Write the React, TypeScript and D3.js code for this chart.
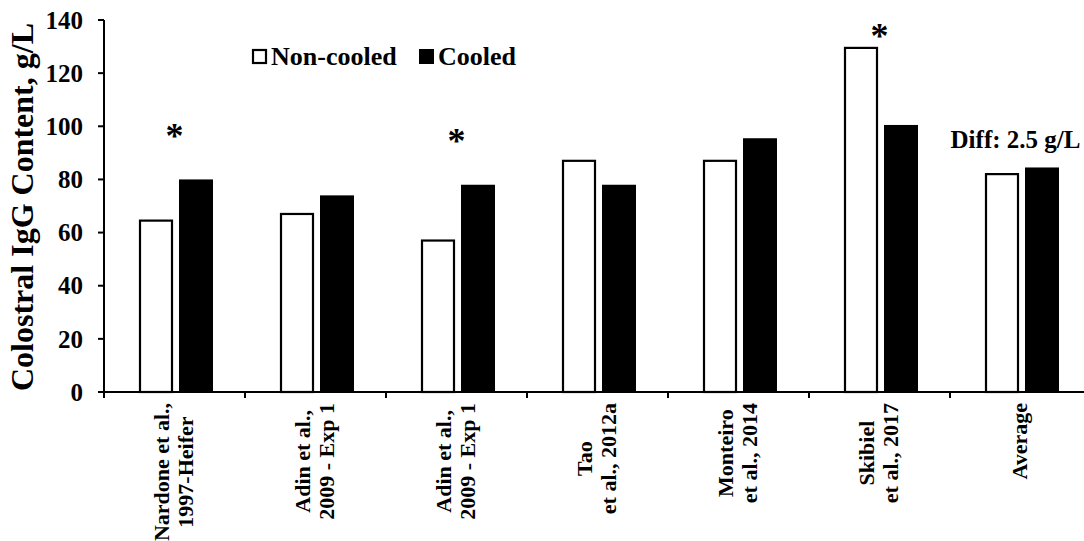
import React, { useEffect, useRef } from 'react';
import * as d3 from 'd3';

// categories (each entry = lines of the rotated label)
const categoryLabels: string[][] = [
    ['Nardone et al.,', '1997-Heifer'],
    ['Adin et al.,', '2009 - Exp 1'],
    ['Adin et al.,', '2009 - Exp 1'],
    ['Tao', 'et al., 2012a'],
    ['Monteiro', 'et al., 2014'],
    ['Skibiel', 'et al., 2017'],
    ['Average'],
];
const seriesNames = ['Non-cooled', 'Cooled'];
const nonCooled = [64.5, 67, 57, 87, 87, 129.5, 82];
const cooled = [80, 74, 78, 78, 95.5, 100.5, 84.5];
const yTicks = [0, 20, 40, 60, 80, 100, 120, 140];

// significance marks (category index, level of the star in g/L)
const starIndex = [0, 2, 5];
const starLevel = [98, 96, 135.5];

const diffLabel = 'Diff: 2.5 g/L';
const diffLevel = 92;

const W = 1084;
const H = 541;
const FONT = '"Liberation Serif", "Times New Roman", Times, serif';

export default function App() {
    const svgRef = useRef<SVGSVGElement>(null);

    useEffect(() => {
        const svg = d3.select(svgRef.current);
        svg.selectAll('*').remove();

        const left = 104;
        const bottom = 392;
        const top = 20;
        const step = 141;

        const idx = categoryLabels.map((_, i) => String(i));
        const x0 = d3
            .scaleBand()
            .domain(idx)
            .range([left, left + step * idx.length])
            .padding(0);
        const x1 = d3.scaleBand().domain(seriesNames).range([35, 109]).paddingInner(0.15);
        const y = d3.scaleLinear().domain([0, 140]).range([bottom, top]);

        const g = svg.append('g').attr('font-family', FONT).attr('font-weight', 'bold');

        // bars
        const rows = idx.map((k, i) => ({ k, vals: [nonCooled[i], cooled[i]] }));
        const grp = g
            .selectAll('g.cat')
            .data(rows)
            .join('g')
            .attr('class', 'cat')
            .attr('transform', (d) => `translate(${x0(d.k)},0)`);
        grp.selectAll('rect')
            .data((d) => d.vals.map((v, j) => ({ s: seriesNames[j], v })))
            .join('rect')
            .attr('x', (d) => (x1(d.s) as number) + (d.s === 'Non-cooled' ? 1 : 0))
            .attr('width', (d) => x1.bandwidth() - (d.s === 'Non-cooled' ? 2 : 0))
            .attr('y', (d) => y(d.v))
            .attr('height', (d) => bottom - y(d.v))
            .attr('fill', (d) => (d.s === 'Cooled' ? '#000' : '#fff'))
            .attr('stroke', '#000')
            .attr('stroke-width', (d) => (d.s === 'Cooled' ? 0 : 2.2));

        // y axis
        g.append('line')
            .attr('x1', left)
            .attr('x2', left)
            .attr('y1', y(140))
            .attr('y2', bottom)
            .attr('stroke', '#000')
            .attr('stroke-width', 2);
        g.selectAll('line.yt')
            .data(yTicks)
            .join('line')
            .attr('class', 'yt')
            .attr('x1', left - 6)
            .attr('x2', left)
            .attr('y1', (d) => y(d))
            .attr('y2', (d) => y(d))
            .attr('stroke', '#000')
            .attr('stroke-width', 2);
        g.selectAll('text.yl')
            .data(yTicks)
            .join('text')
            .attr('class', 'yl')
            .attr('x', 83)
            .attr('y', (d) => y(d))
            .attr('dy', '0.35em')
            .attr('text-anchor', 'end')
            .attr('font-size', 25)
            .text((d) => d);

        // x axis
        g.append('line')
            .attr('x1', left)
            .attr('x2', W)
            .attr('y1', bottom)
            .attr('y2', bottom)
            .attr('stroke', '#000')
            .attr('stroke-width', 2);
        g.selectAll('line.xt')
            .data(idx)
            .join('line')
            .attr('class', 'xt')
            .attr('x1', (d) => x0(d) as number)
            .attr('x2', (d) => x0(d) as number)
            .attr('y1', bottom)
            .attr('y2', bottom + 6)
            .attr('stroke', '#000')
            .attr('stroke-width', 2);

        // rotated category labels
        const fs = 22;
        const lineGap = 24;
        idx.forEach((k, i) => {
            const lines = categoryLabels[i];
            const lg = g
                .append('g')
                .attr('transform', `translate(${(x0(k) as number) + x0.bandwidth() / 2},403) rotate(-90)`);
            const texts = lines.map((t, j) =>
                lg
                    .append('text')
                    .attr('text-anchor', 'middle')
                    .attr('font-size', fs)
                    .attr('y', (j - (lines.length - 1) / 2) * lineGap + 0.3 * fs)
                    .text(t)
            );
            const maxLen = d3.max(texts, (t) => (t.node() as SVGTextElement).getComputedTextLength()) || 0;
            texts.forEach((t) => t.attr('x', -maxLen / 2));
        });

        // y axis title
        g.append('text')
            .attr('transform', `translate(33,${(top + bottom) / 2 + 1}) rotate(-90)`)
            .attr('text-anchor', 'middle')
            .attr('font-size', 32)
            .text('Colostral IgG Content, g/L');

        // stars
        g.selectAll('text.star')
            .data(starIndex)
            .join('text')
            .attr('class', 'star')
            .attr('x', (d) => (x0(String(d)) as number) + x0.bandwidth() / 2)
            .attr('y', (d, i) => y(starLevel[i]))
            .attr('dy', '0.45em')
            .attr('text-anchor', 'middle')
            .attr('font-size', 36)
            .text('*');

        // diff label
        g.append('text')
            .attr('x', (x0('6') as number) + x0.bandwidth() / 2 - 5)
            .attr('y', y(diffLevel))
            .attr('text-anchor', 'middle')
            .attr('font-size', 25)
            .text(diffLabel);

        // legend
        const legendX = [252, 419];
        const lg = g.append('g');
        seriesNames.forEach((s, i) => {
            lg.append('rect')
                .attr('x', legendX[i] + (i === 0 ? 1 : 0))
                .attr('y', 49 + (i === 0 ? 1 : 0))
                .attr('width', i === 0 ? 13 : 15)
                .attr('height', i === 0 ? 13 : 15)
                .attr('fill', i === 0 ? '#fff' : '#000')
                .attr('stroke', '#000')
                .attr('stroke-width', i === 0 ? 2.2 : 0);
            lg.append('text')
                .attr('x', legendX[i] + 19)
                .attr('y', 65)
                .attr('font-size', 26)
                .text(s);
        });
    }, []);

    return (
        <div>
            <svg
                ref={svgRef}
                width={W}
                height={H}
                style={{ position: 'absolute', left: 0, top: 0, background: '#fff' }}
            />
        </div>
    );
}
